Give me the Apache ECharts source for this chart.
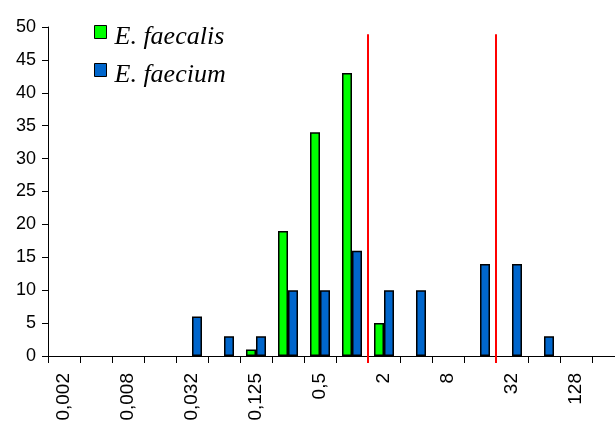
<!DOCTYPE html>
<html>
<head>
<meta charset="utf-8">
<script src="https://cdn.jsdelivr.net/npm/echarts@6/dist/echarts.min.js"></script>
<style>html,body{margin:0;padding:0;background:#fff;overflow:hidden;width:615px;height:426px}#c{width:640px;height:426px}</style>
</head>
<body>
<div id="c"></div>
<script>
const categories = ['0,002','0,004','0,008','0,016','0,032','0,064','0,125','0,25','0,5','1','2','4','8','16','32','64','128','256'];
const faecalis = [0,0,0,0,0,0,1,19,34,43,5,0,0,0,0,0,0,0];
const faecium  = [0,0,0,0,6,3,3,10,10,16,10,10,0,14,14,3,0,0];
const seriesNames = ['E. faecalis','E. faecium'];
const redLineX = [10, 14];     // category boundaries (between 1|2 and 16|32)
const redLineTop = 48.9;
const yTicks = {min: 0, max: 50, interval: 5};

const hideZero = arr => arr.map(v => (v === 0 ? '-' : v));

const chart = echarts.init(document.getElementById('c'), null, {renderer: 'canvas'});
chart.setOption({
  backgroundColor: '#fff',
  animation: false,
  grid: {left: 48, top: 27, width: 576, height: 329, containLabel: false},
  legend: {
    orient: 'vertical', left: 94, top: 14, itemGap: 2, padding: 0,
    icon: 'rect', itemWidth: 12, itemHeight: 13,
    formatter: name => '{t|' + name + '}',
    textStyle: {
      color: '#000',
      rich: {t: {fontFamily: 'Liberation Serif', fontStyle: 'italic', fontSize: 26, color: '#000', lineHeight: 26, padding: [10, 0, 0, 3]}}
    },
    data: [
      {name: seriesNames[0], itemStyle: {color: '#00FF00', borderColor: '#000', borderWidth: 1}},
      {name: seriesNames[1], itemStyle: {color: '#0066CC', borderColor: '#000', borderWidth: 1}}
    ]
  },
  xAxis: [{
    type: 'category', data: categories, boundaryGap: true,
    axisLine: {lineStyle: {color: '#000', width: 1}},
    axisTick: {show: true, interval: 0, length: 7, lineStyle: {color: '#000'}},
    axisLabel: {interval: 1, rotate: 90, margin: 17, fontFamily: 'Liberation Sans', fontSize: 19, color: '#000'},
    splitLine: {show: false}
  }, {
    type: 'value', min: 0, max: categories.length, show: false
  }],
  yAxis: {
    type: 'value', min: yTicks.min, max: yTicks.max, interval: yTicks.interval,
    axisLine: {show: true, lineStyle: {color: '#000', width: 1}},
    axisTick: {show: true, length: 6, lineStyle: {color: '#000'}},
    axisLabel: {margin: 12, fontFamily: 'Liberation Sans', fontSize: 18, color: '#000'},
    splitLine: {show: false}
  },
  series: [
    {name: seriesNames[0], type: 'bar', data: hideZero(faecalis), barWidth: 10, barGap: '0%',
     itemStyle: {color: '#00FF00', borderColor: '#000', borderWidth: 1.5}},
    {name: seriesNames[1], type: 'bar', data: hideZero(faecium), barWidth: 10, barGap: '0%',
     itemStyle: {color: '#0066CC', borderColor: '#000', borderWidth: 1.5}},
    {type: 'custom', xAxisIndex: 1, yAxisIndex: 0, silent: true, z: 5,
     data: redLineX.map(x => [x, redLineTop]),
     renderItem: function (params, api) {
       const p0 = api.coord([api.value(0), 0]);
       const p1 = api.coord([api.value(0), api.value(1)]);
       return {type: 'line', shape: {x1: p0[0], y1: p0[1] + 7, x2: p1[0], y2: p1[1]},
               style: {stroke: '#FF0000', lineWidth: 2}};
     }}
  ]
});
</script>
</body>
</html>
